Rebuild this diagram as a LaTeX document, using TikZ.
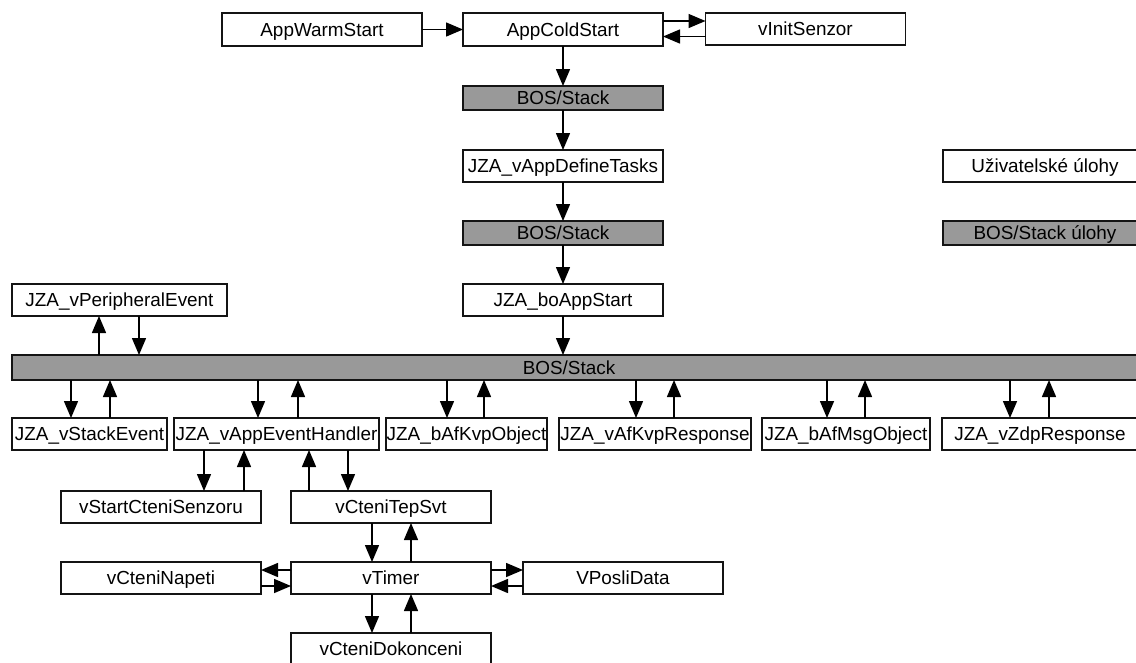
\documentclass[tikz,border=0pt]{standalone}
\usepackage{fontspec}
\setmainfont{Liberation Sans}
\usetikzlibrary{arrows.meta}
\definecolor{boxgray}{RGB}{153,153,153}
\definecolor{linec}{RGB}{20,20,20}
\begin{document}
\begin{tikzpicture}[x=1pt,y=-1pt,
  base/.style={draw=linec, line width=1.3pt, inner sep=0pt, outer sep=0pt,
    text height=13.5pt, text depth=0pt,
    font=\fontsize{18.9}{21}\selectfont},
  ubox/.style={base, fill=white, minimum height=32pt},
  gbox/.style={base, fill=boxgray, minimum height=24pt},
  arr/.style={draw=black, line width=1.5pt, -{Triangle[length=17pt,width=14pt]}}]
\clip (0,0) rectangle (1136,662);
\fill[white] (0,0) rectangle (1136,662);
% top column
\node[ubox, minimum width=200pt, minimum height=33pt] (warm) at (322,29.5) {AppWarmStart};
\node[ubox, minimum width=200pt, minimum height=33pt] (cold) at (563,29.5) {AppColdStart};
\node[ubox, minimum width=200pt] (init) at (805.5,29) {vInitSenzor};
\node[gbox, minimum width=200pt] (bosa) at (563,98) {BOS/Stack};
\node[ubox, minimum width=200pt] (define) at (563,166) {JZA\_vAppDefineTasks};
\node[gbox, minimum width=200pt] (bosb) at (563,233) {BOS/Stack};
\node[ubox, minimum width=200pt] (boapp) at (563,300) {JZA\_boAppStart};
\node[ubox, minimum width=215pt] (periph) at (119.5,300) {JZA\_vPeripheralEvent};
% legend
\node[ubox, minimum width=204pt, anchor=west] (leguser) at (943,166) {Uživatelské úlohy};
\node[gbox, minimum width=204pt, anchor=west] (legbos) at (943,233) {BOS/Stack úlohy};
% bus bar
\node[gbox, minimum height=25pt, minimum width=1140pt, anchor=west] (bar) at (12,367.5) {\hspace*{-26pt}BOS/Stack};
% row of handlers
\node[ubox, minimum width=155pt] (se) at (89.5,434) {JZA\_vStackEvent};
\node[ubox, minimum width=205pt] (aeh) at (276.5,434) {JZA\_vAppEventHandler};
\node[ubox, minimum width=161pt] (kvpo) at (466.5,434) {JZA\_bAfKvpObject};
\node[ubox, minimum width=192pt] (kvpr) at (655,434) {JZA\_vAfKvpResponse};
\node[ubox, minimum width=168pt] (msgo) at (846,434) {JZA\_bAfMsgObject};
\node[ubox, minimum width=210pt, anchor=west] (zdp) at (942,434) {\hspace*{-14pt}JZA\_vZdpResponse};
% lower part
\node[ubox, minimum width=200pt] (senz) at (161,507) {vStartCteniSenzoru};
\node[ubox, minimum width=200pt] (tep) at (391,507) {vCteniTepSvt};
\node[ubox, minimum width=200pt] (timer) at (391,578) {vTimer};
\node[ubox, minimum width=200pt] (nap) at (161,578) {vCteniNapeti};
\node[ubox, minimum width=200pt] (posli) at (623,578) {VPosliData};
\node[ubox, minimum width=200pt] (dok) at (391,649) {vCteniDokonceni};
% top arrows
\draw[arr] (warm.east) -- (cold.west);
\draw[arr] ([yshift=8.5pt]cold.east) -- ([yshift=8.5pt]cold.east -| init.west);
\draw[arr] ([yshift=-7.5pt]init.west) -- ([yshift=-7.5pt]init.west -| cold.east);
\draw[arr] (cold.south) -- (bosa.north);
\draw[arr] (bosa.south) -- (define.north);
\draw[arr] (define.south) -- (bosb.north);
\draw[arr] (bosb.south) -- (boapp.north);
\draw[arr] (boapp.south) -- (boapp.south |- bar.north);
% peripheral
\draw[arr] ([xshift=-20.5pt]periph.south |- bar.north) -- ([xshift=-20.5pt]periph.south);
\draw[arr] ([xshift=19.5pt]periph.south) -- ([xshift=19.5pt]periph.south |- bar.north);
% bar to handlers
\draw[arr] ([xshift=-18.5pt]se.north |- bar.south) -- ([xshift=-18.5pt]se.north);
\draw[arr] ([xshift=20.5pt]se.north) -- ([xshift=20.5pt]se.north |- bar.south);
\draw[arr] ([xshift=-18.5pt]aeh.north |- bar.south) -- ([xshift=-18.5pt]aeh.north);
\draw[arr] ([xshift=21.5pt]aeh.north) -- ([xshift=21.5pt]aeh.north |- bar.south);
\draw[arr] ([xshift=-19.5pt]kvpo.north |- bar.south) -- ([xshift=-19.5pt]kvpo.north);
\draw[arr] ([xshift=17.5pt]kvpo.north) -- ([xshift=17.5pt]kvpo.north |- bar.south);
\draw[arr] ([xshift=-19pt]kvpr.north |- bar.south) -- ([xshift=-19pt]kvpr.north);
\draw[arr] ([xshift=19pt]kvpr.north) -- ([xshift=19pt]kvpr.north |- bar.south);
\draw[arr] ([xshift=-19pt]msgo.north |- bar.south) -- ([xshift=-19pt]msgo.north);
\draw[arr] ([xshift=19pt]msgo.north) -- ([xshift=19pt]msgo.north |- bar.south);
\draw[arr] ([xshift=68pt]zdp.north west |- bar.south) -- ([xshift=68pt]zdp.north west);
\draw[arr] ([xshift=107pt]zdp.north west) -- ([xshift=107pt]zdp.north west |- bar.south);
% handler to subtasks
\draw[arr] ([xshift=43pt]senz.north |- aeh.south) -- ([xshift=43pt]senz.north);
\draw[arr] ([xshift=83pt]senz.north) -- ([xshift=83pt]senz.north |- aeh.south);
\draw[arr] ([xshift=-82pt]tep.north) -- ([xshift=-82pt]tep.north |- aeh.south);
\draw[arr] ([xshift=-43pt]tep.north |- aeh.south) -- ([xshift=-43pt]tep.north);
% tep <-> timer
\draw[arr] ([xshift=-19pt]tep.south) -- ([xshift=-19pt]tep.south |- timer.north);
\draw[arr] ([xshift=20pt]timer.north) -- ([xshift=20pt]timer.north |- tep.south);
% timer <-> dok
\draw[arr] ([xshift=-19pt]timer.south) -- ([xshift=-19pt]timer.south |- dok.north);
\draw[arr] ([xshift=20pt]dok.north) -- ([xshift=20pt]dok.north |- timer.south);
% timer <-> napeti
\draw[arr] ([yshift=8pt]timer.west) -- ([yshift=8pt]timer.west -| nap.east);
\draw[arr] ([yshift=-8pt]nap.east) -- ([yshift=-8pt]nap.east -| timer.west);
% timer <-> posli
\draw[arr] ([yshift=8pt]timer.east) -- ([yshift=8pt]timer.east -| posli.west);
\draw[arr] ([yshift=-8pt]posli.west) -- ([yshift=-8pt]posli.west -| timer.east);
\end{tikzpicture}
\end{document}
